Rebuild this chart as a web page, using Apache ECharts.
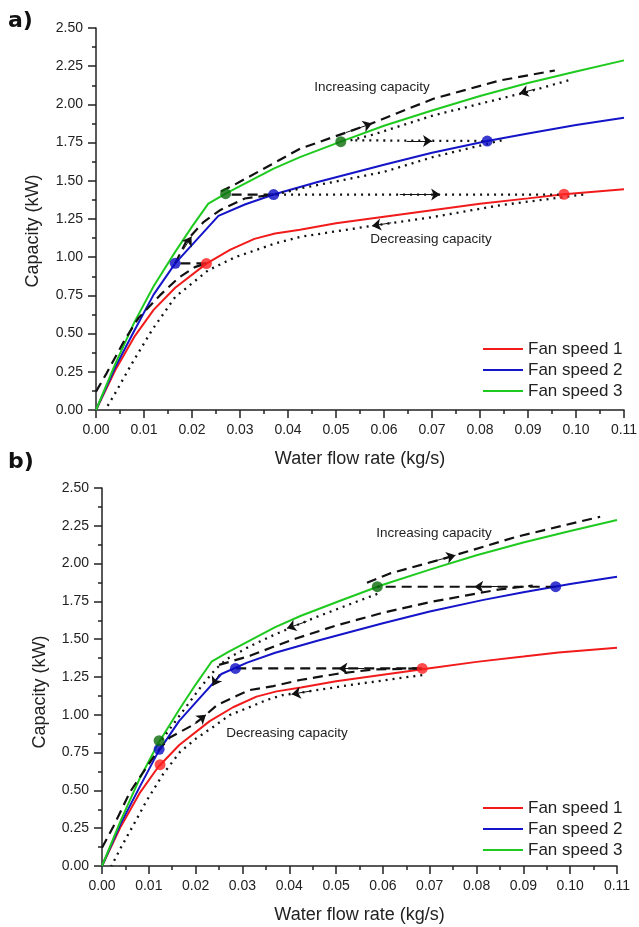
<!DOCTYPE html>
<html><head><meta charset="utf-8">
<script src="https://cdn.jsdelivr.net/npm/echarts@6/dist/echarts.min.js"></script>
<style>html,body{margin:0;padding:0;background:#fff}#c{width:639px;height:927px}</style>
</head><body><div id="c"></div>
<script>
// ---------- data ----------
const fanNames = ['Fan speed 1', 'Fan speed 2', 'Fan speed 3'];
const fan1 = [[0,0],[0.004,0.26],[0.008,0.48],[0.012,0.655],[0.0165,0.80],[0.023,0.958],[0.028,1.05],[0.033,1.12],[0.0373,1.155],[0.0425,1.18],[0.05,1.222],[0.06,1.265],[0.07,1.308],[0.08,1.35],[0.09,1.385],[0.0975,1.412],[0.11,1.444]];
const fan2 = [[0,0],[0.004,0.28],[0.008,0.52],[0.012,0.755],[0.0165,0.96],[0.021,1.115],[0.0255,1.27],[0.031,1.345],[0.037,1.41],[0.046,1.49],[0.06,1.605],[0.07,1.683],[0.0815,1.76],[0.09,1.81],[0.10,1.865],[0.11,1.913]];
const fan3 = [[0,0],[0.004,0.30],[0.008,0.575],[0.012,0.81],[0.0165,1.035],[0.020,1.20],[0.0234,1.351],[0.027,1.416],[0.037,1.58],[0.0425,1.655],[0.051,1.756],[0.06,1.86],[0.07,1.96],[0.08,2.055],[0.09,2.14],[0.10,2.215],[0.11,2.288]];

// panel a: operating points
const aDots1 = [[0.023,0.958],[0.0975,1.412]];
const aDots2 = [[0.0165,0.96],[0.037,1.41],[0.0815,1.76]];
const aDots3 = [[0.027,1.416],[0.051,1.756]];
// panel a: dashed paths (increasing capacity)
const aDash1 = [[0,0.12],[0.0022,0.24],[0.006,0.46],[0.0088,0.60],[0.0133,0.75],[0.0172,0.865],[0.0206,0.935],[0.023,0.96]];
const aDash2 = [[0.023,0.96],[0.0165,0.96]];
const aDash3 = [[0.0165,0.96],[0.0189,1.11],[0.0224,1.23],[0.0258,1.307],[0.031,1.384],[0.037,1.41]];
const aDash4 = [[0.037,1.41],[0.027,1.41]];
const aDash5 = [[0.026,1.43],[0.0286,1.47],[0.0373,1.62],[0.0425,1.71],[0.0564,1.863],[0.0703,2.037],[0.0842,2.157],[0.0956,2.222]];
// panel a: dotted paths (decreasing capacity)
const aDot1 = [[0.0984,2.157],[0.0897,2.08],[0.0703,1.928],[0.0575,1.80],[0.053,1.765],[0.0815,1.76]];
const aDot2 = [[0.0845,1.765],[0.0703,1.656],[0.0599,1.558],[0.0494,1.492],[0.0425,1.45],[0.0397,1.427],[0.037,1.41],[0.0975,1.41]];
const aDot3 = [[0.1015,1.41],[0.0842,1.34],[0.0702,1.263],[0.0585,1.21],[0.0425,1.133],[0.0373,1.09],[0.029,1.0],[0.0234,0.915],[0.0165,0.74],[0.0116,0.52],[0.0074,0.30],[0.004,0.11],[0.0019,0]];
// panel a: arrows [start, end]
const aArrows = [
  [[0.0182,1.05],[0.0199,1.135]],
  [[0.052,1.815],[0.0575,1.875]],
  [[0.0647,1.76],[0.0700,1.76]],
  [[0.0633,1.41],[0.0717,1.41]],
  [[0.0615,1.225],[0.0575,1.205]],
  [[0.0915,2.10],[0.0882,2.072]]
];

// panel b: operating points
const bDots1 = [[0.0124,0.67],[0.0684,1.307]];
const bDots2 = [[0.0122,0.772],[0.0285,1.307],[0.0969,1.847]];
const bDots3 = [[0.0122,0.829],[0.0588,1.847]];
// panel b: dashed paths
const bDash1 = [[0,0.12],[0.0024,0.26],[0.006,0.49],[0.0088,0.62],[0.011,0.72],[0.0122,0.77],[0.0145,0.85],[0.0194,0.932],[0.0217,0.987],[0.0246,1.065],[0.0288,1.126],[0.0316,1.164],[0.0366,1.19],[0.0423,1.23],[0.05,1.27],[0.058,1.30],[0.0684,1.307]];
const bDash2 = [[0.0684,1.307],[0.0285,1.307]];
const bDash3 = [[0.025,1.33],[0.0316,1.39],[0.0366,1.45],[0.0416,1.506],[0.05,1.59],[0.06,1.675],[0.07,1.745],[0.0779,1.79],[0.085,1.83],[0.092,1.855]];
const bDash4 = [[0.0969,1.847],[0.0588,1.847]];
const bDash5 = [[0.0566,1.874],[0.0615,1.935],[0.073,2.033],[0.0886,2.178],[0.1064,2.31]];
// panel b: dotted paths
const bDot1 = [[0.0588,1.80],[0.052,1.72],[0.046,1.649],[0.0417,1.594],[0.0367,1.528],[0.0317,1.455],[0.0267,1.37],[0.0242,1.30],[0.021,1.18],[0.0167,1.0],[0.0135,0.865],[0.0122,0.81]];
const bDot2 = [[0.0684,1.263],[0.053,1.197],[0.0423,1.146],[0.0387,1.131],[0.0352,1.098],[0.0309,1.043],[0.0273,0.999],[0.0238,0.921],[0.0202,0.845],[0.0167,0.756],[0.0131,0.61],[0.0095,0.43],[0.0074,0.31],[0.004,0.12],[0.002,0]];
// panel b: arrows
const bArrows = [
  [[0.070,2.008],[0.0755,2.055]],
  [[0.085,1.847],[0.0795,1.847]],
  [[0.056,1.307],[0.0505,1.307]],
  [[0.0198,0.94],[0.0222,1.0]],
  [[0.0437,1.617],[0.0395,1.572]],
  [[0.0251,1.27],[0.0236,1.19]],
  [[0.0447,1.158],[0.0405,1.136]]
];

const annotations = [
  {text:'Increasing capacity', x:372, y:87},
  {text:'Decreasing capacity', x:431, y:239},
  {text:'Increasing capacity', x:434, y:533},
  {text:'Decreasing capacity', x:287, y:733}
];

// ---------- styles ----------
const lineColors = ['#f21b1b', '#1414c8', '#1fca1f'];
const dotColors = ['#ff1f1f', '#0a0ac4', '#0b6b0b'];
const FONT = '"Liberation Sans", Arial, sans-serif';
const axisCol = '#222';

function xAxisCfg(gi) {
  return {
    type:'value', gridIndex:gi, min:0, max:0.11, interval:0.01,
    name:'Water flow rate (kg/s)', nameLocation:'middle', nameGap:40,
    nameTextStyle:{fontFamily:FONT, fontSize:18, color:axisCol},
    axisLine:{show:true, onZero:false, lineStyle:{color:axisCol, width:1.5}},
    axisTick:{show:true, inside:false, length:8, lineStyle:{color:axisCol, width:1.5}},
    minorTick:{show:true, splitNumber:2, length:4, lineStyle:{color:axisCol, width:1.5}},
    axisLabel:{fontFamily:FONT, fontSize:14, color:axisCol, margin:13, formatter:v=>v.toFixed(2)},
    splitLine:{show:false}, minorSplitLine:{show:false}
  };
}
function yAxisCfg(gi) {
  return {
    type:'value', gridIndex:gi, min:0, max:2.5, interval:0.25,
    axisLine:{show:true, onZero:false, lineStyle:{color:axisCol, width:1.5}},
    axisTick:{show:true, inside:false, length:8, lineStyle:{color:axisCol, width:1.5}},
    minorTick:{show:true, splitNumber:2, length:4, lineStyle:{color:axisCol, width:1.5}},
    axisLabel:{fontFamily:FONT, fontSize:14, color:axisCol, margin:13, formatter:v=>v.toFixed(2)},
    splitLine:{show:false}, minorSplitLine:{show:false}
  };
}

const series = [];
function addPanel(gi, dots, dashes, dots2, arrows) {
  [fan1, fan2, fan3].forEach((d, i) => {
    series.push({type:'line', name:fanNames[i], xAxisIndex:gi, yAxisIndex:gi, data:d,
      symbol:'none', color:lineColors[i], lineStyle:{color:lineColors[i], width:2}, z:2, silent:true});
  });
  dashes.forEach((d, k) => series.push({type:'line', name:'dash'+gi+'_'+k, xAxisIndex:gi, yAxisIndex:gi, data:d,
    symbol:'none', lineStyle:{color:'#111', width:2.2, type:[10,6]}, z:3, silent:true}));
  dots2.forEach((d, k) => series.push({type:'line', name:'dot'+gi+'_'+k, xAxisIndex:gi, yAxisIndex:gi, data:d,
    symbol:'none', lineStyle:{color:'#111', width:2.3, type:[2,5]}, z:3, silent:true}));
  series.push({type:'lines', coordinateSystem:'cartesian2d', xAxisIndex:gi, yAxisIndex:gi,
    data: arrows.map(a => ({coords:a})), symbol:['none','arrow'], symbolSize:[0,9],
    lineStyle:{color:'#111', width:1, type:'solid', opacity:1}, z:4, silent:true});
  dots.forEach((d, i) => series.push({type:'scatter', name:'pt'+gi+'_'+i, xAxisIndex:gi, yAxisIndex:gi, data:d,
    symbol:'circle', symbolSize:11, itemStyle:{color:dotColors[i]}, z:5, silent:true}));
}
addPanel(0, [aDots1, aDots2, aDots3], [aDash1, aDash2, aDash3, aDash4, aDash5], [aDot1, aDot2, aDot3], aArrows);
addPanel(1, [bDots1, bDots2, bDots3], [bDash1, bDash2, bDash3, bDash4, bDash5], [bDot1, bDot2], bArrows);

function legendCfg(top) {
  return {data:fanNames, orient:'vertical', left:483, top:top, padding:0, icon:'rect', itemWidth:40, itemHeight:2,
    itemGap:3, selectedMode:false,
    textStyle:{fontFamily:FONT, fontSize:17, color:axisCol, lineHeight:18}};
}

const graphic = [
  {type:'text', left:8, top:10, style:{text:'a)', font:'bold 22px "DejaVu Sans", sans-serif', fill:'#111'}},
  {type:'text', left:8, top:451, style:{text:'b)', font:'bold 22px "DejaVu Sans", sans-serif', fill:'#111'}},
  {type:'text', x:33, y:231, rotation:Math.PI/2, style:{text:'Capacity (kW)', font:'18px '+FONT, fill:axisCol, textAlign:'center', textVerticalAlign:'middle'}},
  {type:'text', x:40, y:692, rotation:Math.PI/2, style:{text:'Capacity (kW)', font:'18px '+FONT, fill:axisCol, textAlign:'center', textVerticalAlign:'middle'}}
].concat(annotations.map(a => ({type:'text', x:a.x, y:a.y,
  style:{text:a.text, font:'13.5px '+FONT, fill:'#222', textAlign:'center', textVerticalAlign:'middle'}})));

const chart = echarts.init(document.getElementById('c'), null, {renderer:'canvas'});
chart.setOption({
  animation:false,
  backgroundColor:'#fff',
  grid:[
    {left:96, top:28, right:15, bottom:517, containLabel:false, outerBoundsMode:'none'},
    {left:102, top:488, right:22, bottom:61, containLabel:false, outerBoundsMode:'none'}
  ],
  xAxis:[xAxisCfg(0), xAxisCfg(1)],
  yAxis:[yAxisCfg(0), yAxisCfg(1)],
  legend:[legendCfg(340), legendCfg(799)],
  graphic:graphic,
  series:series
});
</script></body></html>
